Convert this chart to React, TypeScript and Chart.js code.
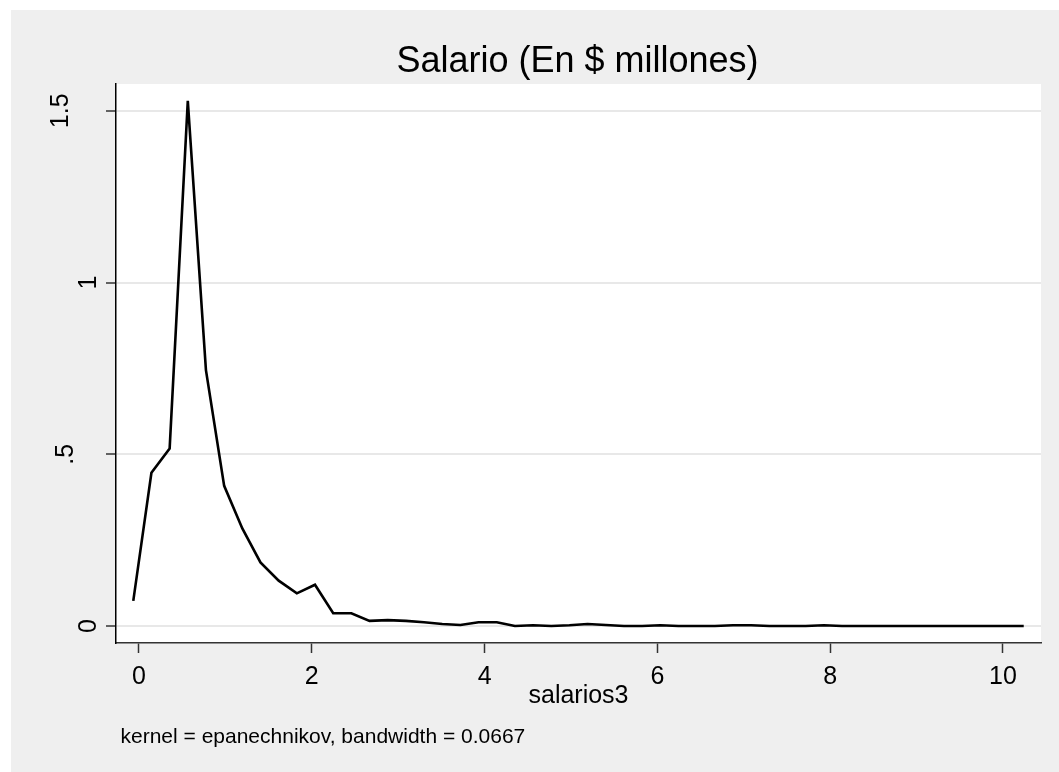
import React, { useEffect, useRef } from 'react';
import { Chart, registerables } from 'chart.js';

Chart.register(...registerables);

// Evaluation grid of the kernel density estimate (salarios3)
const gridX = [
  -0.066, 0.144, 0.355, 0.565, 0.775, 0.986, 1.196, 1.406, 1.617, 1.827,
  2.037, 2.248, 2.458, 2.668, 2.879, 3.089, 3.299, 3.51, 3.72, 3.93,
  4.141, 4.351, 4.561, 4.772, 4.982, 5.192, 5.403, 5.613, 5.823, 6.034,
  6.244, 6.454, 6.665, 6.875, 7.085, 7.296, 7.506, 7.716, 7.927, 8.137,
  8.347, 8.558, 8.768, 8.978, 9.189, 9.399, 9.609, 9.82, 10.03, 10.24,
];

// Density values
const density = [
  0.073, 0.446, 0.517, 1.529, 0.745, 0.408, 0.284, 0.185, 0.132, 0.095,
  0.12, 0.037, 0.037, 0.015, 0.017, 0.015, 0.011, 0.006, 0.003, 0.011,
  0.011, 0.0, 0.002, 0.0, 0.002, 0.006, 0.003, 0.0, 0.0, 0.002,
  0.0, 0.0, 0.0, 0.002, 0.002, 0.0, 0.0, 0.0, 0.002, 0.0,
  0.0, 0.0, 0.0, 0.0, 0.0, 0.0, 0.0, 0.0, 0.0, 0.0,
];

const xTickValues = [0, 2, 4, 6, 8, 10];
const xTickLabels = ['0', '2', '4', '6', '8', '10'];
const yTickValues = [0, 0.5, 1, 1.5];
const yTickLabels = ['0', '.5', '1', '1.5'];

const titleText = 'Salario (En $ millones)';
const xAxisTitle = 'salarios3';
const noteText = 'kernel = epanechnikov, bandwidth = 0.0667';

const FONT = '"Liberation Sans", Arial, Helvetica, sans-serif';
const W = 1048;
const H = 762;

const textPlugin = {
  id: 'stataText',
  beforeDraw(chart: any) {
    const { ctx, chartArea } = chart;
    ctx.save();
    ctx.fillStyle = '#efefef';
    ctx.fillRect(0, 0, chart.width, chart.height);
    ctx.fillStyle = '#ffffff';
    ctx.fillRect(chartArea.left, chartArea.top, chartArea.right - chartArea.left, chartArea.bottom - chartArea.top);
    ctx.restore();
  },
  afterDraw(chart: any) {
    const { ctx, chartArea } = chart;
    const xs = chart.scales.x;
    const ys = chart.scales.y;
    ctx.save();
    ctx.fillStyle = '#000000';

    // Title
    ctx.font = `36px ${FONT}`;
    ctx.textAlign = 'center';
    ctx.textBaseline = 'alphabetic';
    ctx.fillText(titleText, (chartArea.left + chartArea.right) / 2 - 1, chartArea.top - 12.5);

    // X tick labels
    ctx.font = `25px ${FONT}`;
    xTickValues.forEach((v, i) => {
      ctx.fillText(xTickLabels[i], xs.getPixelForValue(v), chartArea.bottom + 40.5);
    });

    // X axis title
    ctx.fillText(xAxisTitle, (chartArea.left + chartArea.right) / 2, chartArea.bottom + 60);

    // Y tick labels (rotated)
    yTickValues.forEach((v, i) => {
      const lbl = yTickLabels[i];
      const inset = lbl.length === 1 ? 10 : lbl.length === 2 ? 33 : 38;
      ctx.save();
      ctx.translate(ys.left - inset, ys.getPixelForValue(v));
      ctx.rotate(-Math.PI / 2);
      ctx.textAlign = 'center';
      ctx.textBaseline = 'alphabetic';
      ctx.fillText(lbl, 0, 0);
      ctx.restore();
    });

    // Note
    ctx.font = `21px ${FONT}`;
    ctx.textAlign = 'left';
    ctx.fillText(noteText, chartArea.left + 4.5, chartArea.bottom + 100);
    ctx.restore();
  },
};

export default function App() {
  const canvasRef = useRef<HTMLCanvasElement | null>(null);

  useEffect(() => {
    document.documentElement.style.overflow = 'hidden';
    if (!canvasRef.current) return;
    const chart = new Chart(canvasRef.current, {
      type: 'line',
      data: {
        datasets: [
          {
            data: gridX.map((x, i) => ({ x, y: density[i] })),
            borderColor: '#000000',
            borderWidth: 2.6,
            pointRadius: 0,
            tension: 0,
            fill: false,
          },
        ],
      },
      options: {
        animation: false,
        responsive: false,
        devicePixelRatio: 1,
        layout: { padding: { left: 95, top: 74, right: 18, bottom: 119 } },
        plugins: {
          legend: { display: false },
          tooltip: { enabled: false },
          title: { display: false },
        },
        scales: {
          x: {
            type: 'linear',
            min: -0.266,
            max: 10.44,
            afterBuildTicks: (s: any) => {
              s.ticks = xTickValues.map((v) => ({ value: v }));
            },
            grid: {
              drawOnChartArea: false,
              drawTicks: true,
              tickLength: 10,
              tickColor: '#333333',
              tickWidth: 1.5,
            },
            border: { display: true, color: '#333333', width: 1.5 },
            ticks: { display: false },
          },
          y: {
            type: 'linear',
            min: -0.0495,
            max: 1.578,
            afterBuildTicks: (s: any) => {
              s.ticks = yTickValues.map((v) => ({ value: v }));
            },
            grid: {
              color: '#e8e8e8',
              lineWidth: 2,
              drawTicks: true,
              tickLength: 10,
              tickColor: '#333333',
              tickWidth: 1.5,
            },
            border: { display: true, color: '#000000', width: 1.5 },
            ticks: { display: false },
          },
        },
      },
      plugins: [textPlugin],
    } as any);
    return () => chart.destroy();
  }, []);

  return (
    <div style={{ position: 'absolute', left: 11, top: 10, width: W + 20, height: H + 20, background: '#efefef' }}>
      <canvas ref={canvasRef} width={W} height={H} style={{ display: 'block', width: W, height: H }} />
    </div>
  );
}
